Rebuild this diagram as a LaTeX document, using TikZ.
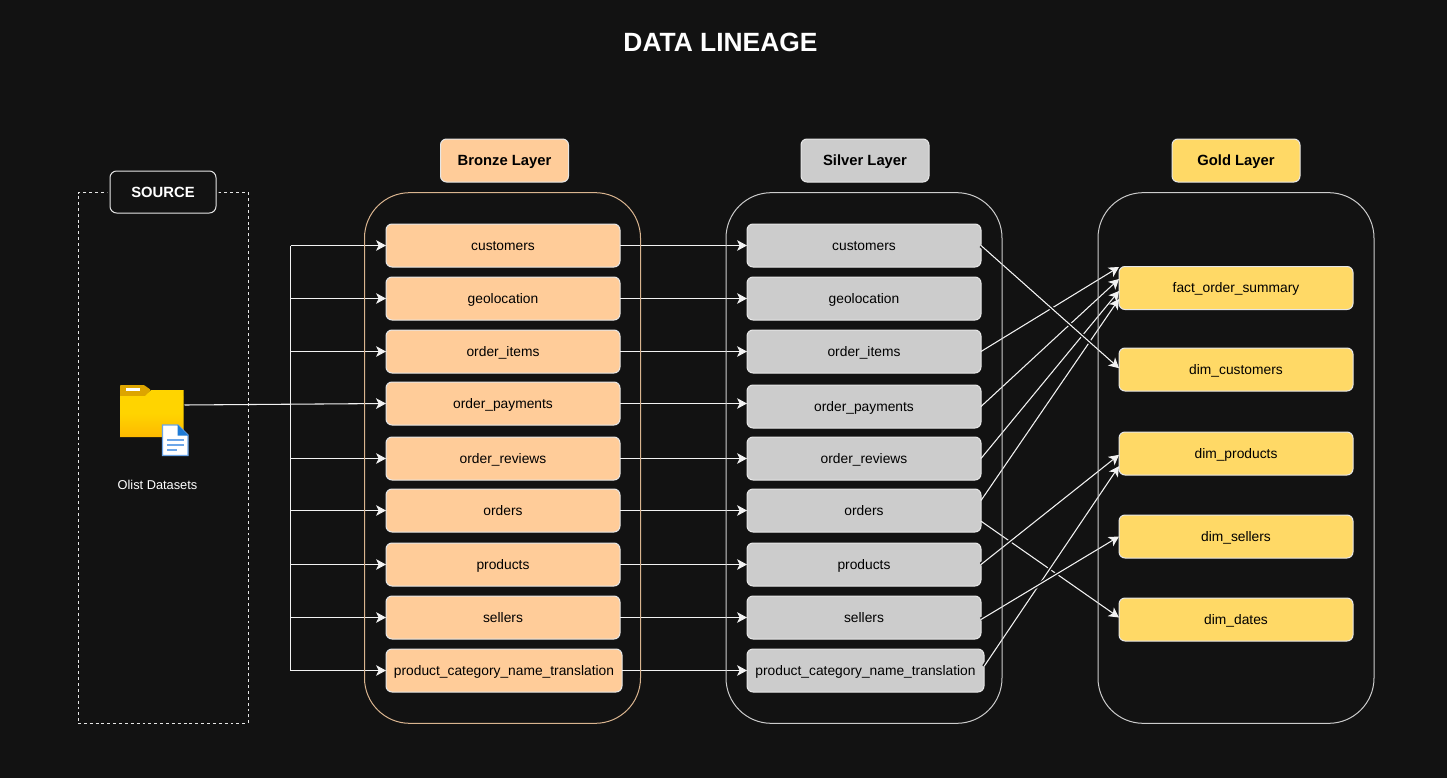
\documentclass[tikz,border=0pt]{standalone}
\usepackage{fontspec}
\setmainfont{Liberation Sans}
\usetikzlibrary{arrows.meta,positioning}
\definecolor{bgc}{HTML}{121212}
\definecolor{bronzec}{HTML}{FFCC99}
\definecolor{silverc}{HTML}{CCCCCC}
\definecolor{goldc}{HTML}{FFD966}
\definecolor{edgec}{HTML}{E6E6E6}
\definecolor{linec}{HTML}{F2F2F2}
\definecolor{bronzeedge}{HTML}{D9B48F}
\definecolor{folderY}{HTML}{FFD400}
\definecolor{folderO}{HTML}{FDB900}
\definecolor{tabc}{HTML}{DDA500}
\definecolor{docb}{HTML}{1E7BD6}
\definecolor{docl}{HTML}{6CA6E8}
\tikzset{
  x=0.75pt,y=-0.75pt,
  box/.style={draw=edgec,line width=0.75pt,rounded corners=4.5pt,minimum height=32.25pt,minimum width=175.5pt,inner sep=0pt,outer sep=0pt,text=black,text height=8.7pt,text depth=1.3pt,font=\fontsize{10.35}{12}\selectfont},
  bbox/.style={box,fill=bronzec},
  sbox/.style={box,fill=silverc},
  gbox/.style={box,fill=goldc},
  head/.style={draw=edgec,line width=0.75pt,rounded corners=4.5pt,minimum height=32.25pt,minimum width=96pt,inner sep=0pt,outer sep=0pt,text=black,text height=9.2pt,text depth=1.4pt,font=\fontsize{11.1}{13}\selectfont\bfseries},
  layer/.style={draw=#1,line width=0.75pt,rounded corners=34pt,minimum height=398pt,minimum width=207pt,inner sep=0pt,outer sep=0pt},
  link/.style={draw=linec,line width=0.8pt,-{Stealth[length=7.5pt,width=8pt,inset=2pt]}},
  plain/.style={draw=linec,line width=0.8pt},
  halo/.style={link,preaction={draw=bgc,line width=3pt,-,shorten >=10pt}},
}
\begin{document}
\begin{tikzpicture}
\useasboundingbox[fill=bgc] (0,0) rectangle (1447,778);
% title
\node[text=white,font=\fontsize{19.8}{23}\selectfont\bfseries,inner sep=0pt] (title) at (720.5,42.5) {DATA LINEAGE};
% source frame
\node[draw=edgec,line width=0.75pt,dash pattern=on 2.2pt off 2.2pt,minimum width=127.5pt,minimum height=398pt,inner sep=0pt,outer sep=0pt] (srcframe) at (163,458) {};
\node[draw=edgec,fill=bgc,line width=0.75pt,rounded corners=5pt,minimum width=79.5pt,minimum height=31.5pt,inner sep=0pt,outer sep=0pt,text=white,font=\fontsize{11.1}{13}\selectfont\bfseries,preaction={draw=bgc,line width=4pt}] (srclabel) at (163,192) {SOURCE};
% coordinates of the bus
\coordinate (b1) at (290.5,245.5);
\coordinate (b2) at (290.5,298.5);
\coordinate (b3) at (290.5,351.5);
\coordinate (b5) at (290.5,458.5);
\coordinate (b6) at (290.5,510.5);
\coordinate (b7) at (290.5,564.5);
\coordinate (b8) at (290.5,617.5);
\coordinate (b9) at (290.5,670.5);
% folder node (transparent anchor for the icon)
\node[minimum width=48.75pt,minimum height=39pt,inner sep=0pt,outer sep=0pt] (folder) at (152,411) {};
% boxes
\foreach \n/\y/\t in {1/245.5/customers,2/298.5/geolocation,3/351.5/order\_items,4/403.5/order\_payments,5/458.5/order\_reviews,6/510.5/orders,7/564.5/products,8/617.5/sellers}{
  \node[bbox] (a\n) at (503,\y) {\t};
}
\node[bbox,minimum width=177pt] (a9) at (504,670.5) {product\_category\_name\_translation};
\foreach \n/\y/\t in {1/245.5/customers,2/298.5/geolocation,3/351.5/order\_items,4/406.5/order\_payments,5/458.5/order\_reviews,6/510.5/orders,7/564.5/products,8/617.5/sellers}{
  \node[sbox] (s\n) at (864,\y) {\t};
}
\node[sbox,minimum width=177.75pt] (s9) at (865.5,670.5) {product\_category\_name\_translation};
\foreach \n/\y/\t in {1/288/fact\_order\_summary,2/369.5/dim\_customers,3/453.5/dim\_products,4/536.5/dim\_sellers,5/619.5/dim\_dates}{
  \node[gbox] (g\n) at (1236,\y) {\t};
}
% connectors: source bus
\draw[plain] (b1) -- (b9);
\foreach \n in {1,2,3,5,6,7,8,9}{ \draw[link] (b\n) -- (a\n.west); }
\draw[link] ([yshift=4.5pt]folder.east) -- (a4.west);
% bronze to silver
\foreach \n in {1,2,3,4,5,6,7,8,9}{ \draw[link] (a\n.east) -- (s\n.west |- a\n.east); }
% silver to gold
\draw[link] (s3.east) -- ([yshift=15.75pt]g1.west);
\draw[link] (s4.east) -- ([yshift=6.75pt]g1.west);
\draw[link] (s5.east) -- ([yshift=-2.25pt]g1.west);
\draw[link] ([yshift=7.5pt]s6.east) -- ([yshift=-8.25pt]g1.west);
\draw[link] ([yshift=-8pt]s6.east) -- ([yshift=1.5pt]g5.west);
\draw[halo] ([yshift=3pt]s9.east) -- ([yshift=-9.5pt]g3.west);
\draw[halo] (s7.east) -- ([yshift=-1pt]g3.west);
\draw[halo] ([yshift=-1.5pt]s8.east) -- (g4.west);
\draw[halo] (s1.east) -- ([yshift=1pt]g2.west);
% layers and headers
\node[layer=bronzeedge] (bronze) at (502.5,458) {};
\node[layer=silverc] (silver) at (864,458) {};
\node[layer=silverc] (gold) at (1236,458) {};
\node[head,fill=bronzec] (hb) at (504.5,160.5) {Bronze Layer};
\node[head,fill=silverc] (hs) at (865,160.5) {Silver Layer};
\node[head,fill=goldc] (hg) at (1236,160.5) {Gold Layer};
% folder icon
\path[fill=tabc] (120,387) -- (120,400) -- (183,400) -- (183,396) -- (152,396) -- (146,390) -- (144,385) -- (122,385) -- cycle;
\path[fill=tabc] (120,386) [rounded corners=0.8pt] -- (120,385) -- (144,385) -- (151,390) -- (145,396) -- (120,396) -- cycle;
\path[top color=folderY,bottom color=folderO,middle color=folderY] (120,396) -- (145,396) -- (151,390) -- (183.5,390) -- (183.5,437) -- (120,437) -- cycle;
\path[fill=white] (126,387.5) rectangle (140,390.5);
\path[fill=white,draw=docl,line width=0.9pt] (162.5,425) -- (178,425) -- (188,435) -- (188,455.5) -- (162.5,455.5) -- cycle;
\path[fill=docb] (177.5,424.5) -- (188.5,435.5) -- (177.5,435.5) -- cycle;
\path[fill=docl] (166.5,439) rectangle (184,441);
\path[fill=docl] (166.5,444) rectangle (184,446);
\path[fill=docl] (166.5,449) rectangle (177,451);
\node[text=white,font=\fontsize{9.6}{12}\selectfont,inner sep=0pt] (flabel) at (157.5,484.5) {Olist Datasets};
\end{tikzpicture}
\end{document}
